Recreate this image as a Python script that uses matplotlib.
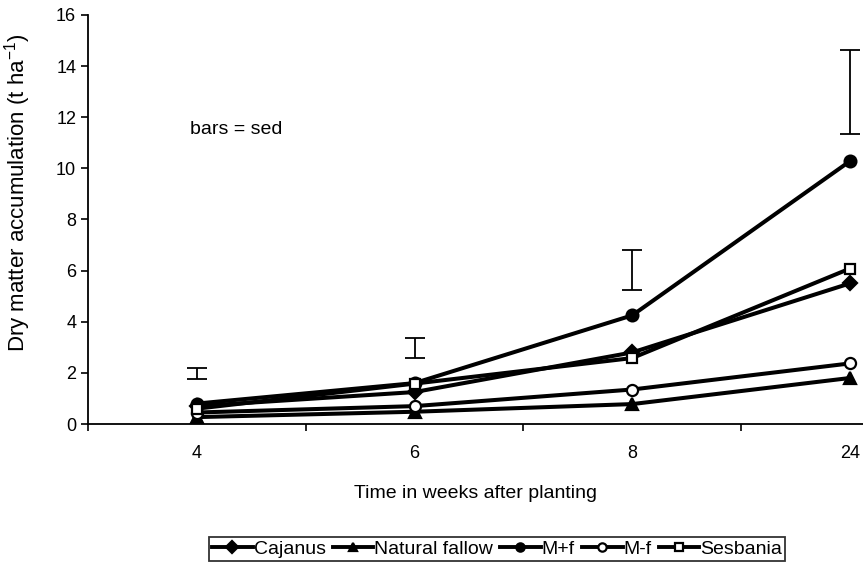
import matplotlib.pyplot as plt
import numpy as np

plt.rcParams['font.family'] = ['Liberation Sans', 'DejaVu Sans']

# Data
weeks = ['4', '6', '8', '24']
cajanus = [0.70, 1.25, 2.80, 5.50]
natural_fallow = [0.27, 0.48, 0.78, 1.80]
m_plus_f = [0.80, 1.60, 4.25, 10.28]
m_minus_f = [0.45, 0.70, 1.35, 2.37]
sesbania = [0.60, 1.58, 2.58, 6.08]

# sed bars (centre and half-length)
sed_mid = [1.98, 2.98, 6.02, 12.98]
sed_half = [0.22, 0.38, 0.78, 1.63]

series = [
    ('Cajanus', cajanus, 'D', 'black', 7),
    ('Natural fallow', natural_fallow, '^', 'black', 8.5),
    ('M+f', m_plus_f, 'o', 'black', 8.5),
    ('M-f', m_minus_f, 'o', 'white', 8),
    ('Sesbania', sesbania, 's', 'white', 7),
]

fig = plt.figure(figsize=(8.63, 5.73), dpi=100)
ax = fig.add_axes([0.102, 0.26, 0.898, 0.714])

x = np.arange(len(weeks))
handles = []
for name, vals, mk, fc, ms in series:
    h, = ax.plot(x, vals, color='black', lw=2.9, marker=mk, markersize=ms,
                 markerfacecolor=fc, markeredgecolor='black', markeredgewidth=1.6,
                 label=name, clip_on=False)
    handles.append(h)

ax.errorbar(x, sed_mid, yerr=sed_half, fmt='none', ecolor='black',
            elinewidth=1.3, capsize=7, capthick=1.3)

ax.text(-0.03, 11.5, 'bars = sed', fontsize=14, ha='left', va='center')

ax.set_ylim(0, 16)
ax.set_yticks(np.arange(0, 17, 2))
ax.set_xlim(-0.5, 3.06)
ax.set_xticks(np.arange(-0.5, 3.0, 1.0))
ax.set_xticklabels([])
ax.set_xticks(x, minor=True)
ax.set_xticklabels(weeks, minor=True)
ax.tick_params(axis='x', which='minor', length=0, pad=15, labelsize=13)
ax.tick_params(axis='x', which='major', length=5, width=1.2, direction='out')
ax.tick_params(axis='y', length=5, width=1.2, direction='out', labelsize=13)

for s in ['top', 'right']:
    ax.spines[s].set_visible(False)
for s in ['left', 'bottom']:
    ax.spines[s].set_linewidth(1.3)

ax.set_xlabel('Time in weeks after planting', fontsize=14, labelpad=17)
ax.set_ylabel('Dry matter accumulation (t ha$^{\\mathregular{-1}}$)', fontsize=16)
ax.yaxis.set_label_coords(-0.071, 0.565)

leg = fig.legend(handles=handles, loc='upper center', bbox_to_anchor=(0.576, 0.062),
                 ncol=5, fontsize=14, frameon=True, fancybox=False,
                 edgecolor='black', handlelength=2.1, handletextpad=0.05,
                 columnspacing=0.35, borderpad=0.15, borderaxespad=0)
leg.get_frame().set_linewidth(1.3)
for lh in leg.legend_handles:
    lh.set_markersize(6)
    lh.set_linewidth(2.8)

fig.savefig('out.png', dpi=100)
plt.close()
